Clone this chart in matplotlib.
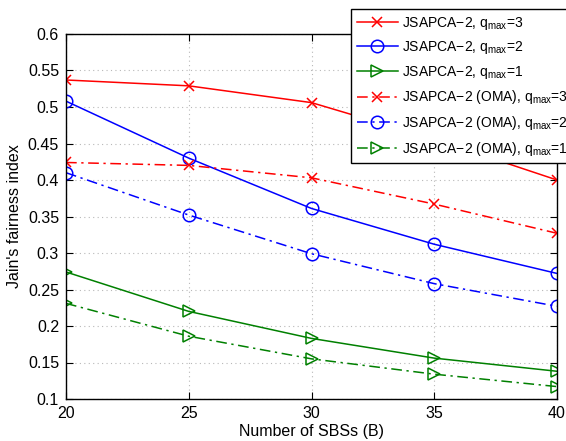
import matplotlib
matplotlib.use('Agg')
import matplotlib.pyplot as plt

plt.rcParams['font.family'] = ['Liberation Sans', 'DejaVu Sans']
plt.rcParams['mathtext.fontset'] = 'custom'
plt.rcParams['mathtext.rm'] = 'Liberation Sans'
plt.rcParams['mathtext.it'] = 'Liberation Sans'

# Data
num_sbs = [20, 25, 30, 35, 40]
q3 = [0.537, 0.529, 0.506, 0.456, 0.400]
q2 = [0.508, 0.430, 0.361, 0.312, 0.272]
q1 = [0.274, 0.220, 0.183, 0.156, 0.138]
q3_oma = [0.424, 0.420, 0.403, 0.367, 0.327]
q2_oma = [0.410, 0.352, 0.299, 0.258, 0.227]
q1_oma = [0.231, 0.186, 0.155, 0.134, 0.117]

labels = [r'JSAPCA−2, q$_{\mathrm{max}}$=3',
          r'JSAPCA−2, q$_{\mathrm{max}}$=2',
          r'JSAPCA−2, q$_{\mathrm{max}}$=1',
          r'JSAPCA−2 (OMA), q$_{\mathrm{max}}$=3',
          r'JSAPCA−2 (OMA), q$_{\mathrm{max}}$=2',
          r'JSAPCA−2 (OMA), q$_{\mathrm{max}}$=1']

green = '#008000'
dashdot = (0, (7, 3, 1.5, 3))

fig = plt.figure(figsize=(5.66, 4.41), dpi=100)
ax = fig.add_axes([66 / 566, 1 - 399 / 441, (557 - 66) / 566, (399 - 34) / 441])

ax.plot(num_sbs, q3, color='r', ls='-', marker='x', ms=7, mew=1.1, lw=1.1, label=labels[0])
ax.plot(num_sbs, q2, color='b', ls='-', marker='o', ms=9, mfc='none', mew=1.1, lw=1.1, label=labels[1])
ax.plot(num_sbs, q1, color=green, ls='-', marker='>', ms=9, mfc='none', mew=1.1, lw=1.1, label=labels[2])
ax.plot(num_sbs, q3_oma, color='r', ls=dashdot, marker='x', ms=7, mew=1.1, lw=1.1, label=labels[3])
ax.plot(num_sbs, q2_oma, color='b', ls=dashdot, marker='o', ms=9, mfc='none', mew=1.1, lw=1.1, label=labels[4])
ax.plot(num_sbs, q1_oma, color=green, ls=dashdot, marker='>', ms=9, mfc='none', mew=1.1, lw=1.1, label=labels[5])

ax.set_xlim(20, 40)
ax.set_ylim(0.1, 0.6)
ax.set_xticks([20, 25, 30, 35, 40])
ax.set_yticks([0.1, 0.15, 0.2, 0.25, 0.3, 0.35, 0.4, 0.45, 0.5, 0.55, 0.6])
ax.set_yticklabels(['0.1', '0.15', '0.2', '0.25', '0.3', '0.35', '0.4', '0.45', '0.5', '0.55', '0.6'])
ax.tick_params(direction='in', top=True, right=True, labelsize=11.5, length=5, pad=5)
ax.grid(True, color='#b8b8b8', linestyle=(0, (1, 3)), linewidth=0.8)
for s in ax.spines.values():
    s.set_linewidth(1.0)
ax.set_xlabel('Number of SBSs (B)', fontsize=11.5, labelpad=2)
ax.set_ylabel("Jain's fairness index", fontsize=11.5, labelpad=4)

leg = fig.legend(loc='upper left', bbox_to_anchor=(351 / 566, 1 - 9 / 441),
                 bbox_transform=fig.transFigure, fontsize=10, fancybox=False,
                 framealpha=1, edgecolor='black', borderaxespad=0, borderpad=0.4,
                 handlelength=3.0, handletextpad=0.3, labelspacing=0.55)
leg.get_frame().set_linewidth(1.0)

fig.savefig('out.png', dpi=100)
